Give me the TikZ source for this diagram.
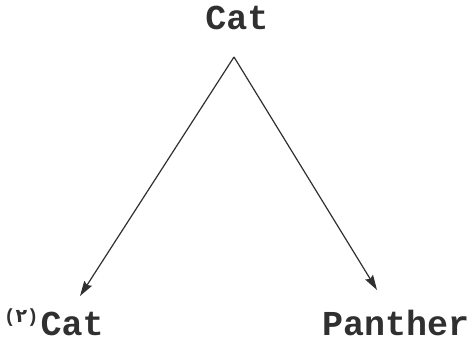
\documentclass[tikz,border=0pt]{standalone}
\usepackage{fontspec}
\setmainfont{Liberation Mono}
\newfontfamily\digitfont{DejaVu Sans}
\usetikzlibrary{positioning, arrows.meta}
\definecolor{inkgray}{HTML}{303030}

\begin{document}
\begin{tikzpicture}[
        x=1pt, y=1pt,
        >={Stealth[length=15pt, width=9pt, inset=2pt]},
        word/.style={
            font=\fontsize{35}{35}\selectfont\bfseries,
            text=inkgray,
            inner sep=0pt
        },
        link/.style={->, draw=inkgray, line width=1.2pt}
    ]
        \useasboundingbox (0,0) rectangle (470,343);

        % Words
        \node[word, anchor=base] (cattop) at (237,313) {Cat};
        \node[word, anchor=base west] (catleft) at (4,8)
            {\raisebox{13pt}{\fontsize{19}{19}\selectfont({\digitfont ٢})}\kern2pt Cat};
        \node[word, anchor=base west] (panther) at (322,8) {Panther};

        % Branch point and arrow tips
        \coordinate (apex) at (234,286);
        \coordinate (tipleft) at (80,47);
        \coordinate (tipright) at (377,53);

        \draw[link] (apex) -- (tipleft);
        \draw[link] (apex) -- (tipright);
    \end{tikzpicture}
\end{document}
